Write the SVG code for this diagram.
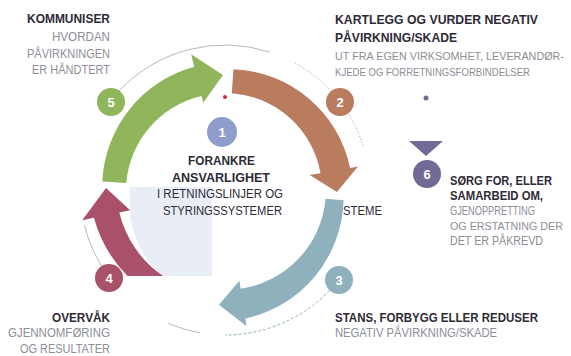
<svg xmlns="http://www.w3.org/2000/svg" width="571" height="356" viewBox="0 0 571 356">
<style>
text{font-family:"Liberation Sans",Arial,sans-serif}
.h{font-size:12.5px;font-weight:bold;fill:#2d2a36}
.g{font-size:12px;fill:#8e8e97}
.s{font-size:10.7px}
.c{font-size:12.5px;fill:#2d2a36}
.n{font-size:13px;font-weight:bold;fill:#fff;text-anchor:middle}
.thin{fill:none;stroke:#b8b8b8;stroke-width:1}
</style>
<defs>
<clipPath id="lav"><rect x="130" y="187" width="82" height="89"/></clipPath>
</defs>
<rect width="571" height="356" fill="#fff"/>
<circle cx="235" cy="200" r="106" fill="#e9edf6" clip-path="url(#lav)"/>

<g id="connectors">
<path class="thin" d="M118.95 91.11 A145 145 0 0 1 269.81 52.10"/>
<path d="M295.30 63.18 A145 145 0 0 1 362.90 145.19" fill="none" stroke="#c8866a" stroke-width="1" stroke-dasharray="1 2"/>
<path d="M339.26 279.27 A145 145 0 0 1 225 335" fill="none" stroke="#8fb1bd" stroke-width="1" stroke-dasharray="3 2"/>
<path class="thin" d="M199.82 332.80 A145 145 0 0 1 168.34 323.47"/>
<path class="thin" d="M109.20 277.26 A145 145 0 0 1 84.31 225.08"/>
</g>

<g id="arrow5"><path fill="#8fb65b" d="M102.30 181.42 A125 125 0 0 1 194.28 66.77 L191.13 54.16 L222.99 75.0 L203.23 102.67 L201.53 95.88 A98 98 0 0 0 126.24 183.09 Z"/></g>
<g id="arrow2"><path fill="#b97c5f" d="M233.44 69.30 A124 124 0 0 1 350.07 167.95 L357.95 166.56 L336.98 191.95 L309.69 175.07 L320.53 173.16 A97 97 0 0 0 231.77 93.24 Z"/></g>
<g id="arrow3"><path fill="#8fb1bd" d="M343.55 200.37 A124 124 0 0 1 245.34 318.40 L246.59 326.30 L218.98 304.84 L239.39 280.87 L240.64 288.77 A100 100 0 0 0 325.62 198.80 Z"/></g>
<g id="arrow4"><path fill="#a9506a" d="M127.5 276 A132 132 0 0 1 93.93 217.86 L82.19 220.35 L106.02 187.92 L130.12 210.17 L119.36 212.45 A107 107 0 0 0 163 276 Z"/></g>

<g id="node1">
<circle cx="222" cy="132" r="15" fill="#8f9dcc"/>
<text class="n" x="222" y="137">1</text>
<text class="h" x="188" y="165" textLength="67" lengthAdjust="spacingAndGlyphs">FORANKRE</text>
<text class="h" x="172" y="182" textLength="98" lengthAdjust="spacingAndGlyphs">ANSVARLIGHET</text>
<text class="c" x="157" y="198" textLength="126" lengthAdjust="spacingAndGlyphs">I RETNINGSLINJER OG</text>
<text class="c" x="163" y="215" textLength="119" lengthAdjust="spacingAndGlyphs">STYRINGSSYSTEMER</text>
<text class="c" x="343" y="215" textLength="39" lengthAdjust="spacingAndGlyphs">STEME</text>
<circle cx="225" cy="97" r="2" fill="#c8303a"/>
</g>

<g id="node2">
<circle cx="340" cy="102" r="14" fill="#b97c5f"/>
<text class="n" x="340" y="107">2</text>
<text class="h" x="335" y="24" textLength="203" lengthAdjust="spacingAndGlyphs">KARTLEGG OG VURDER NEGATIV</text>
<text class="h" x="335" y="42" textLength="122" lengthAdjust="spacingAndGlyphs">PÅVIRKNING/SKADE</text>
<text class="g s" x="335" y="60" textLength="229" lengthAdjust="spacingAndGlyphs">UT FRA EGEN VIRKSOMHET, LEVERANDØR-</text>
<text class="g s" x="335" y="76" textLength="195" lengthAdjust="spacingAndGlyphs">KJEDE OG FORRETNINGSFORBINDELSER</text>
<circle cx="426" cy="98" r="2.5" fill="#6f6a96"/>
</g>

<g id="node3">
<circle cx="339" cy="280" r="14" fill="#8fb1bd"/>
<text class="n" x="339" y="285">3</text>
<text class="h" x="335" y="322" textLength="203" lengthAdjust="spacingAndGlyphs">STANS, FORBYGG ELLER REDUSER</text>
<text class="g" x="335" y="337" textLength="162" lengthAdjust="spacingAndGlyphs">NEGATIV PÅVIRKNING/SKADE</text>
</g>

<g id="node4">
<circle cx="109" cy="278" r="14" fill="#a9506a"/>
<text class="n" x="109" y="283">4</text>
<text class="h" x="52" y="322" textLength="58" lengthAdjust="spacingAndGlyphs">OVERVÅK</text>
<text class="g" x="8" y="337" textLength="102" lengthAdjust="spacingAndGlyphs">GJENNOMFØRING</text>
<text class="g" x="20" y="353" textLength="90" lengthAdjust="spacingAndGlyphs">OG RESULTATER</text>
</g>

<g id="node5">
<circle cx="111" cy="102" r="14" fill="#8fb65b"/>
<text class="n" x="111" y="107">5</text>
<text class="h" x="27" y="23" textLength="83" lengthAdjust="spacingAndGlyphs">KOMMUNISER</text>
<text class="g" x="52" y="41" textLength="58" lengthAdjust="spacingAndGlyphs">HVORDAN</text>
<text class="g" x="27" y="58" textLength="83" lengthAdjust="spacingAndGlyphs">PÅVIRKNINGEN</text>
<text class="g" x="32" y="74" textLength="78" lengthAdjust="spacingAndGlyphs">ER HÅNDTERT</text>
</g>

<g id="node6">
<polygon points="409,141 443,141 426,156" fill="#6f6a96"/>
<circle cx="427" cy="174" r="14" fill="#6f6a96"/>
<text class="n" x="427" y="179">6</text>
<text class="h" x="450" y="185" textLength="102" lengthAdjust="spacingAndGlyphs">SØRG FOR, ELLER</text>
<text class="h" x="450" y="200" textLength="93" lengthAdjust="spacingAndGlyphs">SAMARBEID OM,</text>
<text class="g" x="450" y="215" textLength="85" lengthAdjust="spacingAndGlyphs">GJENOPPRETTING</text>
<text class="g s" x="450" y="230" textLength="113" lengthAdjust="spacingAndGlyphs">OG ERSTATNING DER</text>
<text class="g" x="450" y="245" textLength="93" lengthAdjust="spacingAndGlyphs">DET ER PÅKREVD</text>
</g>
</svg>
